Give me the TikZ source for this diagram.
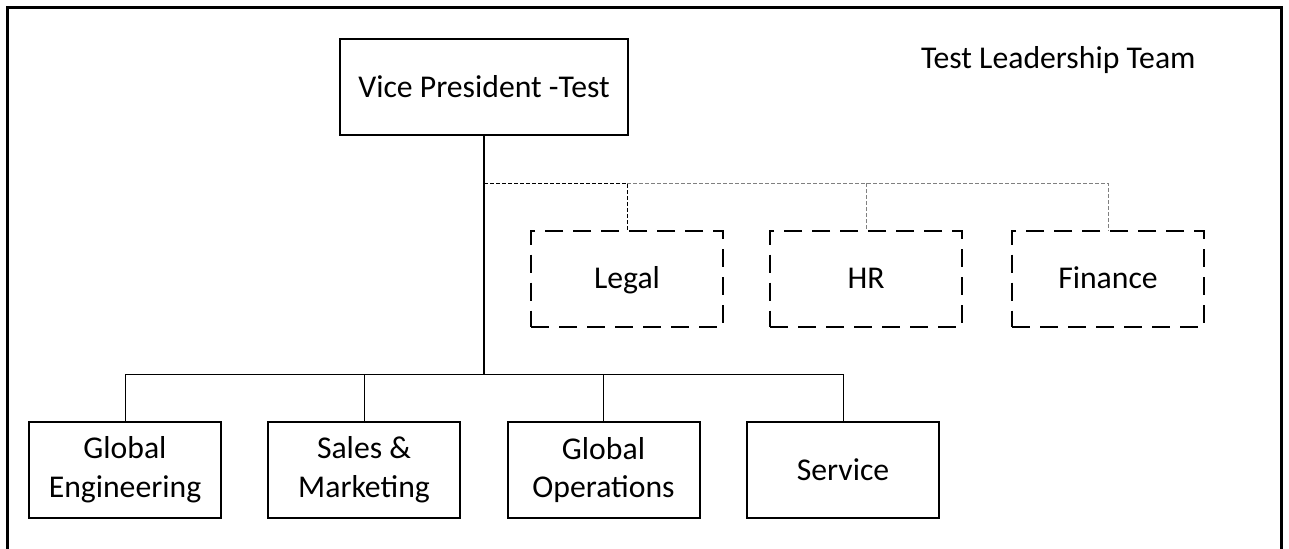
\documentclass[tikz,border=0pt]{standalone}
\usepackage{fontspec}
\setmainfont{Carlito}
\begin{document}
\begin{tikzpicture}[x=0.5pt,y=-0.5pt,
  every node/.style={font=\fontsize{15.85}{19.3}\selectfont, inner sep=0pt, outer sep=0pt},
  unit/.style={draw, line width=1pt, minimum width=96pt, minimum height=48pt, align=center},
  oneline/.style={text height=12.7pt, text depth=2.7pt},
  topunit/.style={unit, oneline, minimum width=144pt},
  staffunit/.style={unit, oneline, dash pattern=on 9pt off 5pt},
  link/.style={line width=0.5pt},
  stafflink/.style={line width=0.5pt, dash pattern=on 2pt off 1pt},
  frame/.style={line width=1.5pt}]
  \useasboundingbox (0,0) rectangle (1289,548);
  \draw[frame] (7,580) -- (7,7) -- (1281,7) -- (1281,580);

  \node (title) [anchor=base west] at (921,68) {Test Leadership Team};

  \node[topunit] (vp) at (484,87) {Vice President -Test};

  \node[staffunit] (legal) at (627,278.5) {Legal};
  \node[staffunit] (hr) at (866,278.5) {HR};
  \node[staffunit] (fin) at (1108,278.5) {Finance};

  \node[unit] (eng) at (125,470) {Global\\Engineering};
  \node[unit] (sales) at (364,470) {Sales \&\\Marketing};
  \node[unit] (ops) at (603.5,470) {Global\\Operations};
  \node[unit, oneline] (svc) at (843,470) {Service};

  % solid reporting lines
  \coordinate (bus) at (484,374);
  \draw[link, line width=0.75pt] (vp.south) -- (bus);
  \draw[link] (eng.north) |- (bus) -| (svc.north);
  \draw[link] (sales.north) -- (sales.north |- bus);
  \draw[link] (ops.north) -- (ops.north |- bus);

  % dotted-line staff functions
  \coordinate (staff) at (484,183);
  \draw[stafflink] (staff) -| (legal.north);
  \draw[stafflink, gray] (legal.north |- staff) -| (fin.north);
  \draw[stafflink, gray] (hr.north |- staff) -- (hr.north);
\end{tikzpicture}
\end{document}
